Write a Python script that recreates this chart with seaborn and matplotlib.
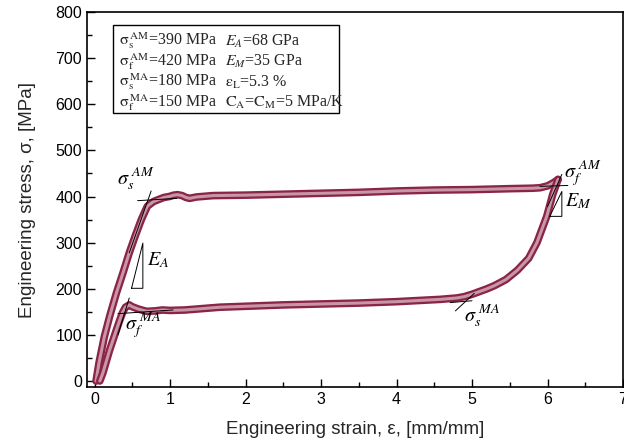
import matplotlib
matplotlib.use("Agg")
import matplotlib.pyplot as plt
import seaborn as sns
import numpy as np
import pandas as pd

# ---- data ----
load_strain = [0.02, 0.06, 0.13, 0.20, 0.29, 0.38, 0.46, 0.54, 0.62, 0.70, 0.78, 0.84, 0.92,
               0.99, 1.05, 1.10, 1.16, 1.21, 1.26, 1.35, 1.57, 2.0, 2.5, 3.0, 3.5, 4.0, 4.5,
               5.0, 5.5, 5.8, 5.9, 6.0, 6.08, 6.14]
load_stress = [0, 40, 96, 140, 191, 236, 278, 315, 350, 379, 389, 393, 398,
               400, 403, 404, 402, 398, 396, 399, 402, 403, 405, 407, 409, 412, 414,
               415, 417, 418, 419, 423, 430, 437]

unload_strain = [6.14, 6.07, 5.99, 5.86, 5.75, 5.6, 5.45, 5.3, 5.2, 5.1, 5.0, 4.9, 4.8, 4.58,
                 4.0, 3.5, 3.0, 2.5, 2.0, 1.66, 1.2, 1.0, 0.9, 0.8, 0.69, 0.58, 0.50, 0.46,
                 0.41, 0.37, 0.33, 0.29, 0.20, 0.11, 0.07]
unload_stress = [437, 405, 357, 300, 266, 240, 220, 207, 200, 194, 188, 183, 180, 177,
                 172, 169, 167, 165, 162, 160, 154, 153, 154, 152, 151, 156, 161, 165,
                 160, 148, 130, 111, 67, 17, 0]

box_col1 = [r"$\mathrm{\sigma_s^{\,AM}}$=390 MPa", r"$\mathrm{\sigma_f^{\,AM}}$=420 MPa",
            r"$\mathrm{\sigma_s^{\,MA}}$=180 MPa", r"$\mathrm{\sigma_f^{\,MA}}$=150 MPa"]
box_col2 = [r"$E_A$=68 GPa", r"$E_M$=35 GPa", r"$\mathrm{\varepsilon_L}$=5.3 %",
            r"$\mathrm{C_A}$=$\mathrm{C_M}$=5 MPa/K"]

sns.set_theme(style="ticks")
plt.rcParams['font.family'] = ['Liberation Sans', 'DejaVu Sans']
plt.rcParams['mathtext.fontset'] = 'stix'

fig = plt.figure(figsize=(6.24, 4.46), dpi=100)
ax = fig.add_axes([0.1394, 0.1323, 0.8590, 0.8407])

dark = "#8a2448"
light = "#c996a6"
for xs, ys in [(load_strain, load_stress), (unload_strain, unload_stress)]:
    df = pd.DataFrame({"x": xs, "y": ys})
    sns.lineplot(data=df, x="x", y="y", sort=False, estimator=None, ax=ax,
                 color=dark, lw=5.5, solid_capstyle="round", solid_joinstyle="round")
    sns.lineplot(data=df, x="x", y="y", sort=False, estimator=None, ax=ax,
                 color=light, lw=2.2, solid_capstyle="round", solid_joinstyle="round")

ax.set_xlim(-0.1, 7)
ax.set_ylim(-13, 800)
ax.set_xticks(range(0, 8))
ax.set_yticks(range(0, 801, 100))
ax.set_xticks(np.arange(0.5, 7, 1.0), minor=True)
ax.set_yticks(np.arange(50, 800, 100), minor=True)
ax.tick_params(which="both", direction="in", top=False, right=False, labelsize=11.5,
               colors="black", width=1)
ax.tick_params(which="major", length=6)
ax.tick_params(which="minor", length=3.5)
for s in ax.spines.values():
    s.set_visible(True)
    s.set_color("black")
    s.set_linewidth(1.2)
ax.set_xlabel("Engineering strain, ε, [mm/mm]", fontsize=13.5, labelpad=10)
ax.set_ylabel("Engineering stress, σ, [MPa]", fontsize=13.5, labelpad=14)

# ---- annotations (tangent lines, triangles, labels) ----
lk = dict(color="black", lw=0.7)
ax.plot([0.46, 0.75], [278, 412], **lk)
ax.plot([0.57, 1.09], [391, 396], **lk)
ax.plot([0.49, 0.64, 0.64, 0.49], [201, 201, 299, 201], **lk)
ax.plot([0.31, 0.46], [100, 180], **lk)
ax.plot([0.31, 1.04], [146, 154], **lk)
ax.plot([6.0, 6.19], [378, 448], **lk)
ax.plot([5.9, 6.27], [422, 424], **lk)
ax.plot([6.03, 6.19, 6.19, 6.03], [357, 357, 411, 357], **lk)
ax.plot([4.78, 5.03], [152, 190], **lk)
ax.plot([4.71, 5.0], [170, 174], **lk)

tk = dict(fontsize=14.5, color="black")
ax.text(0.30, 425, r"$\sigma_s^{\ AM}$", **tk)
ax.text(0.70, 250, r"$E_A$", **tk)
ax.text(0.40, 112, r"$\sigma_f^{\ MA}$", **tk)
ax.text(6.22, 440, r"$\sigma_f^{\ AM}$", **tk)
ax.text(6.23, 378, r"$E_M$", **tk)
ax.text(4.90, 128, r"$\sigma_s^{\ MA}$", **tk)

# ---- parameter box ----
bx0, by0 = (113 - 87) / 536, 1 - (25 - 12) / 375
bx1, by1 = (339 - 87) / 536, 1 - (113 - 12) / 375
ax.add_patch(plt.Rectangle((bx0, by1), bx1 - bx0, by0 - by1, transform=ax.transAxes,
                           fill=True, facecolor="white", edgecolor="black", lw=1.0, zorder=5))
for i, (a, b) in enumerate(zip(box_col1, box_col2)):
    yy = 1 - (41 + i * 20.5 - 12) / 375
    ax.text((119 - 87) / 536, yy, a, transform=ax.transAxes, fontsize=11.5,
            family="Liberation Serif", va="center", zorder=6)
    ax.text((225 - 87) / 536, yy, b, transform=ax.transAxes, fontsize=11.5,
            family="Liberation Serif", va="center", zorder=6)

fig.savefig("out.png", dpi=100, facecolor="white")
